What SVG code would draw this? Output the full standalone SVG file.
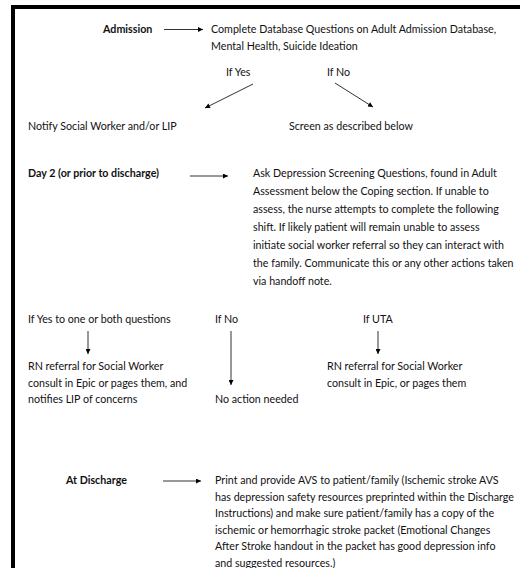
<svg xmlns="http://www.w3.org/2000/svg" width="520" height="568" viewBox="0 0 520 568">
<defs>
<marker id="ah" viewBox="0 0 10 10" refX="10" refY="5" markerWidth="6" markerHeight="5" markerUnits="userSpaceOnUse" orient="auto">
<path d="M0,0 L10,5 L0,10 z" fill="#000"/>
</marker>
<style>
text{font-family:Lato,"Liberation Sans",sans-serif;font-size:10.7px;fill:#111}
.b{font-weight:bold}
.c{stroke:#333;stroke-width:1;fill:none;marker-end:url(#ah)}
</style>
</defs>
<rect width="520" height="568" fill="#fff"/>
<path d="M13,568 V7 H520" fill="none" stroke="#000" stroke-width="4"/>
<g id="connectors">
<line class="c" x1="164" y1="29.5" x2="203" y2="29.5"/>
<line class="c" x1="253" y1="84" x2="205" y2="108"/>
<line class="c" x1="335" y1="83" x2="373" y2="107"/>
<line class="c" x1="190" y1="176" x2="228" y2="176"/>
<line class="c" x1="88" y1="331" x2="88" y2="354"/>
<line class="c" x1="231" y1="331" x2="231" y2="385"/>
<line class="c" x1="378" y1="331" x2="378" y2="354"/>
<line class="c" x1="163" y1="481" x2="201" y2="481"/>
</g>
<g id="admission"><text class="b" x="103" y="33">Admission</text></g>
<g id="complete-db"><text x="211" y="33">Complete Database Questions on Adult Admission Database,</text><text x="211" y="49.5">Mental Health, Suicide Ideation</text></g>
<g id="if-yes-1"><text x="226" y="76">If Yes</text></g>
<g id="if-no-1"><text x="327" y="76">If No</text></g>
<g id="notify"><text x="28" y="130">Notify Social Worker and/or LIP</text></g>
<g id="screen"><text x="289" y="130">Screen as described below</text></g>
<g id="day2"><text class="b" x="28" y="177">Day 2 (or prior to discharge)</text></g>
<g id="ask">
<text x="253" y="177">Ask Depression Screening Questions, found in Adult</text>
<text x="253" y="195">Assessment below the Coping section. If unable to</text>
<text x="253" y="213">assess, the nurse attempts to complete the following</text>
<text x="253" y="231">shift. If likely patient will remain unable to assess</text>
<text x="253" y="249">initiate social worker referral so they can interact with</text>
<text x="253" y="267">the family. Communicate this or any other actions taken</text>
<text x="253" y="285">via handoff note.</text>
</g>
<g id="if-yes-2"><text x="28" y="323">If Yes to one or both questions</text></g>
<g id="if-no-2"><text x="215" y="323">If No</text></g>
<g id="if-uta"><text x="363" y="323">If UTA</text></g>
<g id="rn-referral-1"><text x="28" y="370">RN referral for Social Worker</text><text x="28" y="386.5">consult in Epic or pages them, and</text><text x="28" y="403">notifies LIP of concerns</text></g>
<g id="no-action"><text x="215" y="403">No action needed</text></g>
<g id="rn-referral-2"><text x="327" y="370">RN referral for Social Worker</text><text x="327" y="386.5">consult in Epic, or pages them</text></g>
<g id="at-discharge"><text class="b" x="66" y="484">At Discharge</text></g>
<g id="print-avs">
<text x="215" y="484">Print and provide AVS to patient/family (Ischemic stroke AVS</text>
<text x="215" y="500.5">has depression safety resources preprinted within the Discharge</text>
<text x="215" y="517">Instructions) and make sure patient/family has a copy of the</text>
<text x="215" y="533.5">ischemic or hemorrhagic stroke packet (Emotional Changes</text>
<text x="215" y="550">After Stroke handout in the packet has good depression info</text>
<text x="215" y="566.5">and suggested resources.)</text>
</g>
</svg>
